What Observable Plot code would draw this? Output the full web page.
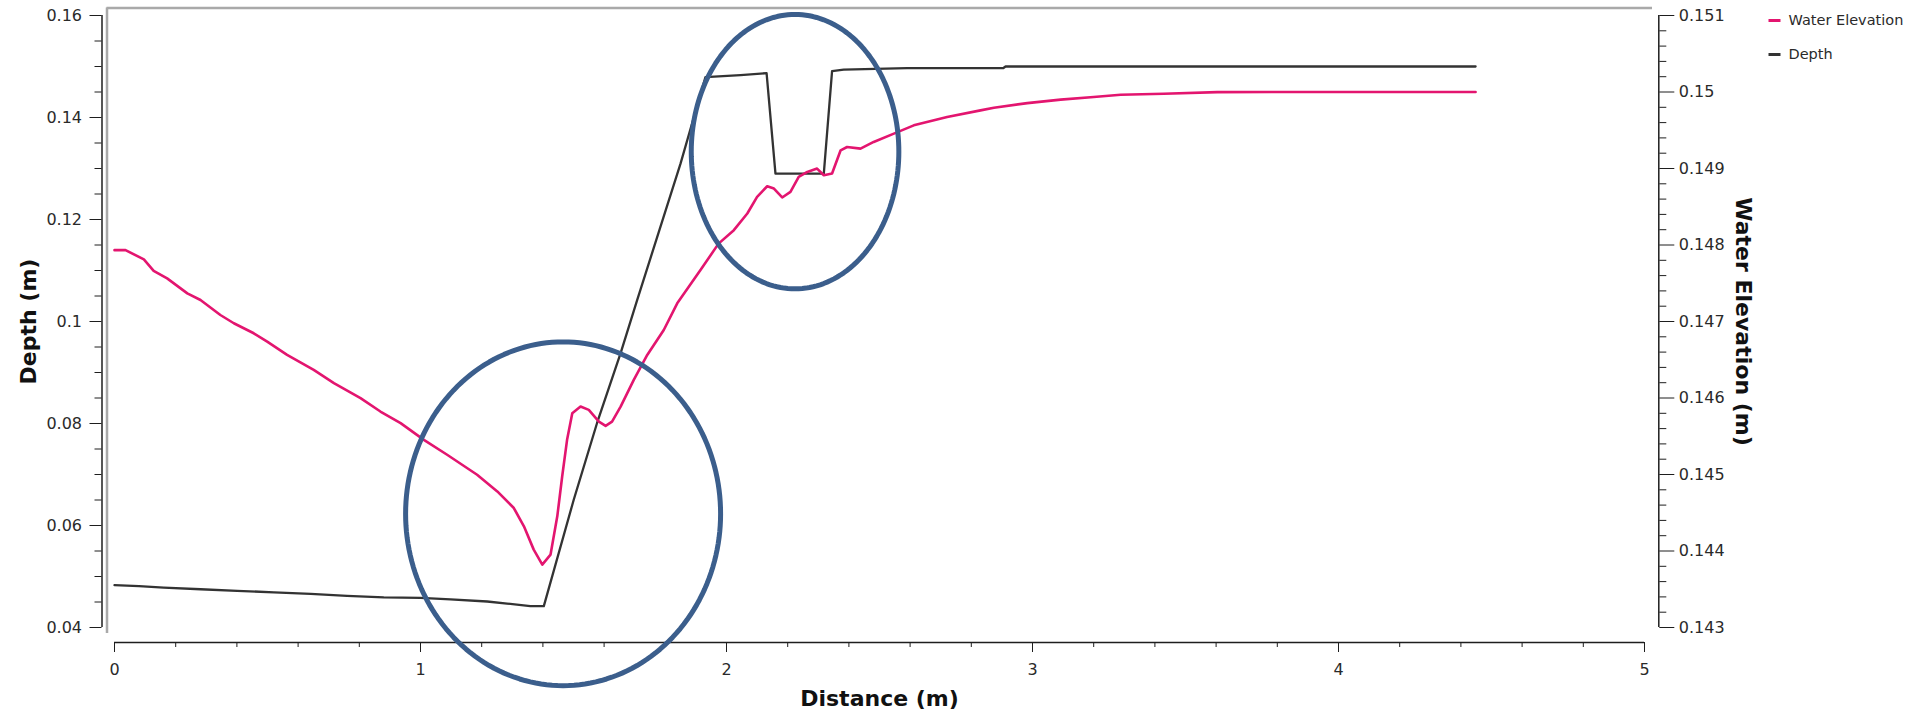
<!DOCTYPE html>
<html>
<head>
<meta charset="utf-8">
<script src="https://cdn.jsdelivr.net/npm/d3@7"></script>
<script src="https://cdn.jsdelivr.net/npm/@observablehq/plot@0.6"></script>
<style>
  html, body { margin: 0; padding: 0; background: #ffffff; }
  #chart { width: 1909px; height: 714px; }
</style>
</head>
<body>
<div id="chart"></div>
<script>
// ---------- Data ----------
const depthDistance = [0, 0.080, 0.161, 0.281, 0.401, 0.521, 0.641, 0.760, 0.880, 1.000, 1.098, 1.218, 1.283, 1.359, 1.403,
  1.501, 1.577, 1.654, 1.708, 1.850, 1.931, 2.046, 2.131, 2.160, 2.318, 2.345, 2.383, 2.590, 2.905, 2.912, 4.448];
const depthValues = [0.0483, 0.0481, 0.0478, 0.0475, 0.0472, 0.0469, 0.0466, 0.0462, 0.0459, 0.0458, 0.0455, 0.0451, 0.0447, 0.0442, 0.0442,
  0.0651, 0.0801, 0.0938, 0.1042, 0.1310, 0.1479, 0.1483, 0.1487, 0.1290, 0.1290, 0.1491, 0.1494, 0.1497, 0.1497, 0.1500, 0.1500];

const elevDistance = [0, 0.036, 0.096, 0.128, 0.172, 0.238, 0.281, 0.346, 0.390, 0.455, 0.499, 0.564, 0.651, 0.717, 0.804,
  0.869, 0.935, 1.011, 1.087, 1.185, 1.251, 1.305, 1.338, 1.370, 1.398, 1.425, 1.447, 1.463, 1.479, 1.496,
  1.523, 1.550, 1.583, 1.605, 1.626, 1.654, 1.697, 1.741, 1.795, 1.839, 1.915, 1.974, 2.024, 2.068, 2.100,
  2.133, 2.155, 2.182, 2.209, 2.236, 2.264, 2.296, 2.318, 2.345, 2.373, 2.394, 2.438, 2.481, 2.547, 2.612,
  2.721, 2.830, 2.874, 2.983, 3.092, 3.200, 3.288, 3.429, 3.604, 4.448];
const elevValues = [0.147933, 0.147933, 0.147812, 0.147663, 0.147564, 0.147368, 0.147281, 0.147085, 0.146977, 0.146846, 0.146736, 0.146563, 0.146367, 0.146194, 0.145998,
  0.145823, 0.145671, 0.145453, 0.145258, 0.144997, 0.144779, 0.144562, 0.144322, 0.144018, 0.143822, 0.143953, 0.144453, 0.144974, 0.145453, 0.145802,
  0.145888, 0.145845, 0.145692, 0.145636, 0.145692, 0.145888, 0.146237, 0.146563, 0.146889, 0.147237, 0.147672, 0.148018, 0.148194, 0.148412, 0.148629,
  0.148768, 0.148738, 0.148621, 0.148694, 0.148890, 0.148955, 0.148999, 0.148912, 0.148934, 0.149238, 0.149281, 0.149260, 0.149347, 0.149456, 0.149564,
  0.149673, 0.149760, 0.149795, 0.149855, 0.149900, 0.149934, 0.149965, 0.149978, 0.149999, 0.150000];

const xTicks = [0, 1, 2, 3, 4, 5];
const depthTicks = [0.04, 0.06, 0.08, 0.1, 0.12, 0.14, 0.16];
const elevTicks = [0.143, 0.144, 0.145, 0.146, 0.147, 0.148, 0.149, 0.15, 0.151];

const legendLabels = ["Water Elevation", "Depth"];
const legendColors = ["#e3156f", "#333333"];

// annotation circles (data units: distance, depth)
const noteCx = [1.466, 2.224];
const noteCy = [0.0623, 0.1333];
const noteRx = [0.5147, 0.3392];
const noteRy = [0.0337, 0.0269];

// ---------- Derived tables ----------
const depthData = depthDistance.map((x, i) => ({distance: x, value: depthValues[i]}));
const elevData = elevDistance.map((x, i) => ({distance: x, value: elevValues[i]}));

const D0 = 0.04, D1 = 0.16, E0 = 0.143, E1 = 0.151;
const elevToY = v => D0 + (v - E0) * (D1 - D0) / (E1 - E0);
const yToElev = y => E0 + (y - D0) * (E1 - E0) / (D1 - D0);
const fmt = v => String(+v.toFixed(4));

const near = (a, arr) => arr.some(t => Math.abs(t - a) < 1e-9);
const xMinor = d3.range(0, 26).map(i => +(i * 0.2).toFixed(4)).filter(v => !near(v, xTicks));
const depthMinor = d3.range(0, 25).map(i => +(0.04 + i * 0.005).toFixed(4)).filter(v => !near(v, depthTicks));
const elevMinor = d3.range(0, 41).map(i => +(0.143 + i * 0.0002).toFixed(5)).filter(v => !near(v, elevTicks));

const ellipsePts = [];
noteCx.forEach((cx, k) => {
  for (let j = 0; j <= 180; j++) {
    const t = j / 180 * 2 * Math.PI;
    ellipsePts.push({id: k, x: cx + noteRx[k] * Math.cos(t), y: noteCy[k] + noteRy[k] * Math.sin(t)});
  }
});

const axisColor = "#1e1e1e";
const textColor = "#2a2a2a";
const frameGray = "#a9a9a9";
const lineShape = {draw(ctx) { ctx.moveTo(-6, 0); ctx.lineTo(6, 0); }};

const chart = Plot.plot({
  width: 1909,
  height: 714,
  marginLeft: 114,
  marginRight: 265,
  marginTop: 15,
  marginBottom: 87,
  x: {domain: [0, 5], label: null},
  y: {domain: [D0, D1], label: null},
  style: {fontFamily: "'DejaVu Sans', Verdana, sans-serif", fontSize: "16px", background: "#ffffff", color: textColor},
  marks: [
    // gray plot border (top + left)
    Plot.ruleY([D1], {dy: -7.5, insetLeft: -7.5, insetRight: -8, stroke: frameGray, strokeWidth: 2.5}),
    Plot.ruleX([0], {dx: -7.5, insetTop: -7.5, insetBottom: -6, stroke: frameGray, strokeWidth: 2.5}),

    // left axis (Depth)
    Plot.ruleX([0], {dx: -12.5, stroke: axisColor, strokeWidth: 1.5}),
    Plot.axisY(depthTicks, {anchor: "left", dx: -12.5, tickSize: 12, tickPadding: 8, stroke: axisColor, fill: textColor,
      fontSize: 16, tickFormat: fmt, label: null}),
    Plot.axisY(depthMinor, {anchor: "left", dx: -12.5, tickSize: 7, stroke: axisColor, tickFormat: () => "", label: null}),

    // right axis (Water Elevation)
    Plot.ruleX([5], {dx: 14.3, stroke: axisColor, strokeWidth: 1.5}),
    Plot.axisY(elevTicks.map(elevToY), {anchor: "right", dx: 14.3, tickSize: 15, tickPadding: 5, stroke: axisColor, fill: textColor,
      fontSize: 16, tickFormat: t => fmt(yToElev(t)), label: null}),
    Plot.axisY(elevMinor.map(elevToY), {anchor: "right", dx: 14.3, tickSize: 7, stroke: axisColor, tickFormat: () => "", label: null}),

    // bottom axis (Distance)
    Plot.ruleY([D0], {dy: 15, stroke: axisColor, strokeWidth: 1.5}),
    Plot.axisX(xTicks, {anchor: "bottom", dy: 15, tickSize: 10, tickPadding: 11, stroke: axisColor, fill: textColor,
      fontSize: 16, tickFormat: d => String(d), label: null}),
    Plot.axisX(xMinor, {anchor: "bottom", dy: 15, tickSize: 5, stroke: axisColor, tickFormat: () => "", label: null}),

    // axis titles
    Plot.text(["Depth (m)"], {text: d => d, frameAnchor: "left", dx: -86, rotate: -90, textAnchor: "middle", lineAnchor: "middle",
      fontSize: 22, fontWeight: "bold", fill: "#111"}),
    Plot.text(["Water Elevation (m)"], {text: d => d, frameAnchor: "right", dx: 99, rotate: 90, textAnchor: "middle", lineAnchor: "middle",
      fontSize: 22, fontWeight: "bold", fill: "#111"}),
    Plot.text(["Distance (m)"], {text: d => d, frameAnchor: "bottom", dy: 71, textAnchor: "middle", lineAnchor: "middle",
      fontSize: 22, fontWeight: "bold", fill: "#111"}),

    // data lines
    Plot.line(depthData, {x: "distance", y: "value", stroke: legendColors[1], strokeWidth: 2.3}),
    Plot.line(elevData, {x: "distance", y: d => elevToY(d.value), stroke: legendColors[0], strokeWidth: 2.6}),

    // annotation circles
    Plot.line(ellipsePts, {x: "x", y: "y", z: "id", stroke: "#3b5e8c", strokeWidth: 5, curve: "linear"}),

    // legend
    ...legendLabels.flatMap((lab, i) => [
      Plot.dot([lab], {frameAnchor: "top-right", dx: 130, dy: 5 + 34 * i, symbol: lineShape, r: 6, fill: "none",
        stroke: legendColors[i], strokeWidth: 3}),
      Plot.text([lab], {text: d => d, frameAnchor: "top-right", dx: 144, dy: 5 + 34 * i, textAnchor: "start", lineAnchor: "middle",
        fontSize: 14.5, fill: textColor})
    ])
  ]
});

document.getElementById("chart").appendChild(chart);
</script>
</body>
</html>
